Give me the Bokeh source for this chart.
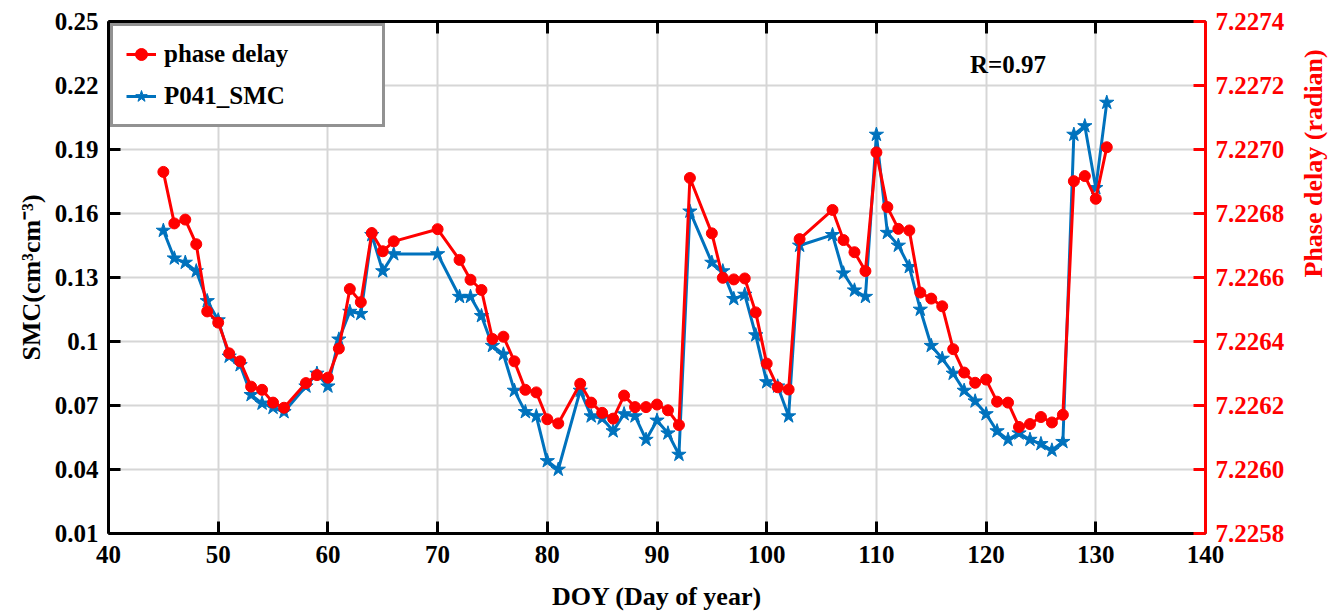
import math
from bokeh.plotting import figure
from bokeh.models import (LinearAxis, Range1d, FixedTicker, CustomJSTickFormatter,
                          PrintfTickFormatter, Label, Legend, LegendItem)
from bokeh.embed import file_html
from bokeh.resources import INLINE

# ---- data ----
doy = [45, 46, 47, 48, 49, 50, 51, 52, 53, 54, 55, 56,
       58, 59, 60, 61, 62, 63, 64, 65, 66,
       70,
       72, 73, 74, 75, 76, 77, 78, 79, 80, 81,
       83, 84, 85, 86, 87, 88, 89, 90, 91, 92, 93,
       95, 96, 97, 98, 99, 100, 101, 102, 103,
       106, 107, 108, 109, 110, 111, 112, 113, 114, 115, 116, 117, 118, 119,
       120, 121, 122, 123, 124, 125, 126, 127, 128, 129, 130, 131]

smc = [0.152, 0.139, 0.137, 0.133, 0.119, 0.110, 0.093, 0.089, 0.075, 0.071, 0.069, 0.067,
       0.079, 0.085, 0.079, 0.101, 0.114, 0.113, 0.150, 0.133, 0.141,
       0.141,
       0.121, 0.121, 0.112, 0.098, 0.094, 0.077, 0.067, 0.065, 0.044, 0.040,
       0.077, 0.065, 0.064, 0.058, 0.066, 0.065, 0.054, 0.063, 0.057, 0.047, 0.161,
       0.137, 0.133, 0.120, 0.122, 0.103, 0.081, 0.079, 0.065, 0.145,
       0.150, 0.132, 0.124, 0.121, 0.197, 0.151, 0.145, 0.135, 0.115, 0.098, 0.092, 0.085, 0.077, 0.072,
       0.066, 0.058, 0.054, 0.057, 0.054, 0.052, 0.049, 0.053, 0.197, 0.201, 0.172, 0.212]

phase = [7.226930, 7.226769, 7.226781, 7.226704, 7.226494, 7.226459, 7.226363, 7.226338,
         7.226259, 7.226249, 7.226209, 7.226193,
         7.226270, 7.226295, 7.226287, 7.226378, 7.226564, 7.226523, 7.226739, 7.226682, 7.226713,
         7.226751,
         7.226655, 7.226593, 7.226561, 7.226408, 7.226415, 7.226338, 7.226249, 7.226241, 7.226157, 7.226144,
         7.226268, 7.226209, 7.226177, 7.226159, 7.226231, 7.226195, 7.226195, 7.226203, 7.226185,
         7.226139, 7.226911,
         7.226738, 7.226599, 7.226594, 7.226597, 7.226491, 7.226331, 7.226257, 7.226250, 7.226720,
         7.226811, 7.226717, 7.226679, 7.226620, 7.226991, 7.226820, 7.226752, 7.226747, 7.226553,
         7.226534, 7.226510, 7.226376, 7.226303, 7.226271,
         7.226281, 7.226212, 7.226209, 7.226133, 7.226142, 7.226164, 7.226147, 7.226171, 7.226901,
         7.226917, 7.226846, 7.227007]

x_ticks = [40, 50, 60, 70, 80, 90, 100, 110, 120, 130, 140]
smc_ticks = [0.01, 0.04, 0.07, 0.10, 0.13, 0.16, 0.19, 0.22, 0.25]
phase_ticks = [7.2258, 7.2260, 7.2262, 7.2264, 7.2266, 7.2268, 7.2270, 7.2272, 7.2274]

FONT = "Liberation Serif"
RED = "#ff0000"
BLUE = "#0072bd"

p = figure(frame_width=1097, frame_height=512,
           x_range=Range1d(40, 140), y_range=Range1d(0.01, 0.25),
           output_backend="svg", toolbar_location=None,
           min_border_left=108, min_border_right=138,
           min_border_top=21, min_border_bottom=82,
           x_axis_location=None, y_axis_location=None)
p.extra_y_ranges = {"phase": Range1d(7.2258, 7.2274)}
p.outline_line_color = None
p.background_fill_color = "white"
p.border_fill_color = "white"

def style_axis(ax, color="black"):
    ax.axis_line_color = color
    ax.axis_line_width = 3
    ax.major_tick_line_color = color
    ax.major_tick_line_width = 3
    ax.major_tick_in = 12
    ax.major_tick_out = 0
    ax.minor_tick_line_color = None
    ax.major_label_text_font = FONT
    ax.major_label_text_font_style = "bold"
    ax.major_label_text_font_size = "25px"
    ax.major_label_text_color = color
    ax.axis_label_text_font = FONT
    ax.axis_label_text_font_style = "bold"
    ax.axis_label_text_font_size = "26px"
    ax.axis_label_text_color = color

xt = FixedTicker(ticks=x_ticks)
yt = FixedTicker(ticks=smc_ticks)
pt = FixedTicker(ticks=phase_ticks)

xb = LinearAxis(ticker=xt, axis_label="DOY (Day of year)")
style_axis(xb)
xb.major_label_standoff = 12
xb.axis_label_standoff = 16
p.add_layout(xb, "below")

xa = LinearAxis(ticker=xt, formatter=CustomJSTickFormatter(code="return '';"))
style_axis(xa)
xa.major_label_standoff = 0
p.add_layout(xa, "above")

yl = LinearAxis(ticker=yt, axis_label="SMC(cm³cm⁻³)",
                formatter=CustomJSTickFormatter(code="return String(parseFloat(tick.toFixed(2)));"))
style_axis(yl)
yl.major_label_standoff = 10
yl.axis_label_standoff = 6
p.add_layout(yl, "left")

yr = LinearAxis(ticker=pt, y_range_name="phase", axis_label="Phase delay (radian)",
                formatter=PrintfTickFormatter(format="%.4f"))
style_axis(yr, RED)
yr.major_label_standoff = 10
yr.axis_label_standoff = 26
yr.axis_label_orientation = math.pi / 2
p.add_layout(yr, "right")

p.xgrid.ticker = xt
p.ygrid.ticker = yt
for g in (p.xgrid, p.ygrid):
    g.grid_line_color = "#d6d6d6"
    g.grid_line_width = 2

bl = p.line(doy, smc, line_color=BLUE, line_width=3)
bs = p.scatter(doy, smc, marker="star", size=15, fill_color=BLUE, line_color=BLUE)
rl = p.line(doy, phase, line_color=RED, line_width=3, y_range_name="phase")
rs = p.scatter(doy, phase, marker="circle", size=11, fill_color=RED, line_color=RED,
               y_range_name="phase")

legend = Legend(items=[LegendItem(label="phase delay", renderers=[rl, rs]),
                       LegendItem(label="P041_SMC", renderers=[bl, bs])],
                location="top_left", margin=2, padding=13, spacing=12,
                glyph_width=30, glyph_height=30, label_height=30, label_width=205,
                label_standoff=8,
                label_text_font=FONT, label_text_font_style="bold",
                label_text_font_size="25px", label_text_color="black",
                border_line_color="#262626", border_line_width=3,
                background_fill_color="white", background_fill_alpha=1)
p.add_layout(legend)

p.add_layout(Label(x=122, y=0.23, text="R=0.97", text_align="center",
                   text_baseline="middle", text_font=FONT, text_font_style="bold",
                   text_font_size="25px", text_color="black"))

open("out.html", "w").write(file_html(p, INLINE))
